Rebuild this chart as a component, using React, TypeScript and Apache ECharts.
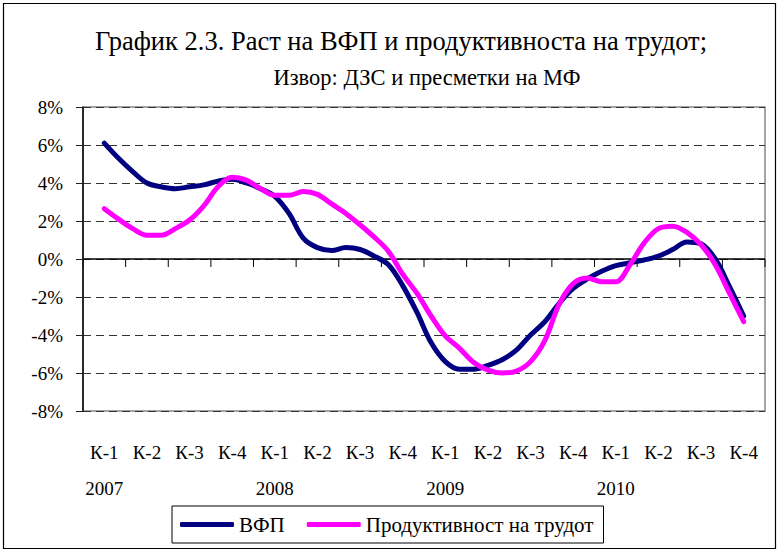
import React, { useEffect, useRef } from "react";
import * as echarts from "echarts";

const quarters = [
  "К-1", "К-2", "К-3", "К-4",
  "К-1", "К-2", "К-3", "К-4",
  "К-1", "К-2", "К-3", "К-4",
  "К-1", "К-2", "К-3", "К-4",
];
const years = ["2007", "2008", "2009", "2010"];

const titleLine1 = "График 2.3. Раст на ВФП и продуктивноста на трудот;";
const titleLine2 = "Извор: ДЗС и пресметки на МФ";

const seriesNames = ["ВФП", "Продуктивност на трудот"];

// read at ~monthly resolution (3 points per quarter), first point = К-1 2007, last = К-4 2010
const tfp = [
  6.1, 5.3, 4.6, 4.0, 3.8, 3.7, 3.8, 3.9, 4.1, 4.2, 4.0, 3.7,
  3.3, 2.4, 1.1, 0.6, 0.45, 0.6, 0.5, 0.15, -0.3, -1.4, -2.8, -4.4,
  -5.4, -5.8, -5.8, -5.6, -5.3, -4.8, -4.0, -3.3, -2.35, -1.55, -1.05, -0.65,
  -0.35, -0.2, -0.05, 0.15, 0.5, 0.9, 0.8, 0.0, -1.45, -3.0,
];
const productivity = [
  2.65, 2.1, 1.6, 1.25, 1.25, 1.6, 2.05, 2.8, 3.8, 4.3, 4.15, 3.7,
  3.35, 3.35, 3.55, 3.4, 2.9, 2.4, 1.8, 1.15, 0.4, -0.8, -1.8, -3.0,
  -4.05, -4.7, -5.45, -5.85, -6.0, -5.9, -5.4, -4.3, -2.4, -1.3, -1.0, -1.2,
  -1.2, -0.3, 0.85, 1.6, 1.72, 1.4, 0.75, -0.3, -1.8, -3.3,
];

const FONT = "Liberation Serif";

export default function App() {
  const ref = useRef<HTMLDivElement>(null);
  useEffect(() => {
    const chart = echarts.init(ref.current!, null, { renderer: "svg" });
    const perQuarter = 3;
    const xMax = quarters.length * perQuarter;
    const toXY = (arr: number[]) => arr.map((v, i) => [i + perQuarter / 2, v]);
    const yMin = -8;
    const yMax = 8;
    // quarter boundaries (for tick marks on the zero line)
    const boundaries = Array.from({ length: quarters.length + 1 }, (_, k) => [k * perQuarter, 0]);

    chart.setOption({
      animation: false,
      backgroundColor: "#ffffff",
      textStyle: { fontFamily: FONT },
      graphic: [
        {
          type: "rect",
          shape: { x: 3.5, y: 3.5, width: 772, height: 545 },
          style: { fill: "none", stroke: "#000", lineWidth: 1.2 },
          silent: true,
        },
        {
          type: "text",
          x: 401,
          y: 41,
          style: {
            text: titleLine1,
            font: `26.5px '${FONT}'`,
            fill: "#000",
            textAlign: "center",
            textVerticalAlign: "middle",
          },
        },
        {
          type: "text",
          x: 427,
          y: 77,
          style: {
            text: titleLine2,
            font: `22.5px '${FONT}'`,
            fill: "#000",
            textAlign: "center",
            textVerticalAlign: "middle",
          },
        },
      ],
      grid: {
        left: 83,
        right: 14,
        top: 107,
        bottom: 141,
        show: true,
        borderColor: "#888",
        borderWidth: 1.5,
        containLabel: false,
      },
      legend: {
        left: 172,
        top: 506,
        data: seriesNames,
        icon: "roundRect",
        itemWidth: 54,
        itemHeight: 5,
        itemGap: 22,
        borderColor: "#000",
        borderWidth: 1,
        borderRadius: 0,
        padding: [8, 10, 8, 8],
        textStyle: { fontFamily: FONT, fontSize: 21, color: "#000" },
      },
      xAxis: [
        {
          type: "value",
          min: 0,
          max: xMax,
          interval: perQuarter,
          show: false,
        },
        {
          type: "category",
          data: quarters,
          position: "bottom",
          boundaryGap: true,
          axisLine: { show: false, onZero: false },
          axisTick: { show: false },
          splitLine: { show: false },
          axisLabel: {
            interval: 0,
            margin: 23,
            color: "#000",
            fontFamily: FONT,
            fontSize: 19,
            lineHeight: 36,
            formatter: (value: string, index: number) =>
              index % 4 === 0 ? `${value}\n${years[index / 4]}` : `${value}\n `,
          },
        },
      ],
      yAxis: {
        type: "value",
        min: yMin,
        max: yMax,
        interval: 2,
        axisLine: { show: true, onZero: false, lineStyle: { color: "#222", width: 1.5 } },
        axisTick: { show: true, length: 7, lineStyle: { color: "#222" } },
        axisLabel: {
          margin: 20,
          color: "#000",
          fontFamily: FONT,
          fontSize: 19,
          formatter: (v: number) => `${v}%`,
        },
        splitLine: {
          show: true,
          lineStyle: { color: "#333", type: [8, 5], width: 1 },
        },
      },
      series: [
        {
          name: "axis-marks",
          type: "custom",
          xAxisIndex: 0,
          yAxisIndex: 0,
          data: boundaries,
          silent: true,
          z: 5,
          renderItem: (params: any, api: any) => {
            const p = api.coord([api.value(0), api.value(1)]);
            const children: any[] = [
              {
                type: "line",
                shape: { x1: p[0], y1: p[1], x2: p[0], y2: p[1] + 8 },
                style: { stroke: "#000", lineWidth: 1 },
              },
            ];
            if (params.dataIndex === 0) {
              const end = api.coord([xMax, 0]);
              const top = api.coord([0, yMax]);
              const bottom = api.coord([0, yMin]);
              children.push({
                type: "line",
                shape: { x1: p[0], y1: p[1], x2: end[0], y2: end[1] },
                style: { stroke: "#000", lineWidth: 1.3 },
              });
              children.push({
                type: "line",
                shape: { x1: top[0], y1: top[1], x2: bottom[0], y2: bottom[1] },
                style: { stroke: "#222", lineWidth: 1.5 },
              });
            }
            return { type: "group", children };
          },
        },
        {
          name: seriesNames[0],
          type: "line",
          xAxisIndex: 0,
          yAxisIndex: 0,
          data: toXY(tfp),
          smooth: 0.35,
          showSymbol: false,
          symbol: "none",
          color: "#000080",
          lineStyle: { color: "#000080", width: 5, cap: "round", join: "round" },
          z: 7,
        },
        {
          name: seriesNames[1],
          type: "line",
          xAxisIndex: 0,
          yAxisIndex: 0,
          data: toXY(productivity),
          smooth: 0.35,
          showSymbol: false,
          symbol: "none",
          color: "#ff00ff",
          lineStyle: { color: "#ff00ff", width: 5, cap: "round", join: "round" },
          z: 8,
        },
      ],
    });
    return () => chart.dispose();
  }, []);
  return (
    <div
      ref={ref}
      style={{ width: 779, height: 552, position: "absolute", left: 0, top: 0 }}
    />
  );
}
